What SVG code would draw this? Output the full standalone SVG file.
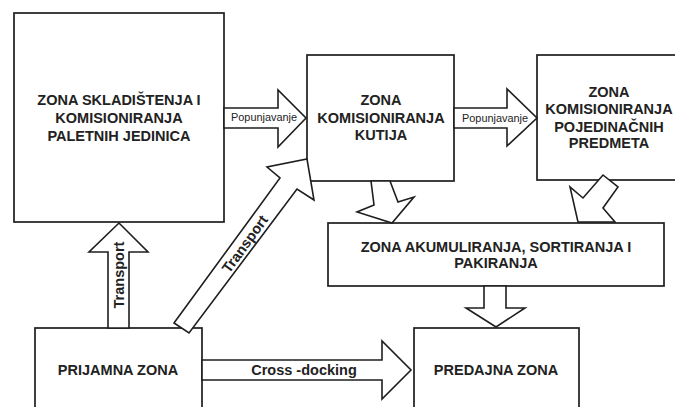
<svg xmlns="http://www.w3.org/2000/svg" width="675" height="407" viewBox="0 0 675 407">
<style>
.box{fill:#fff;stroke:#1e1e1e;stroke-width:1.7}
.arr{fill:#fff;stroke:#1e1e1e;stroke-width:1.6;stroke-linejoin:miter}
.t{font-family:"Liberation Sans",Arial,sans-serif;font-weight:bold;font-size:14.5px;fill:#222;text-anchor:middle}
.s{font-family:"Liberation Sans",Arial,sans-serif;font-size:10.5px;fill:#222;text-anchor:middle}
</style>
<rect width="675" height="407" fill="#fff"/>
<g id="n-skladistenje">
<rect class="box" x="14" y="13" width="210" height="209"/>
<text class="t" x="119" y="105">ZONA SKLADIŠTENJA I</text>
<text class="t" x="119" y="123">KOMISIONIRANJA</text>
<text class="t" x="119" y="141">PALETNIH JEDINICA</text>
</g>
<g id="n-kutije">
<rect class="box" x="307" y="55" width="147" height="126"/>
<text class="t" x="381" y="105">ZONA</text>
<text class="t" x="381" y="123">KOMISIONIRANJA</text>
<text class="t" x="381" y="140">KUTIJA</text>
</g>
<g id="n-predmeti">
<rect class="box" x="537" y="55" width="150" height="125"/>
<text class="t" x="609" y="97">ZONA</text>
<text class="t" x="609" y="114">KOMISIONIRANJA</text>
<text class="t" x="609" y="132">POJEDINAČNIH</text>
<text class="t" x="609" y="148">PREDMETA</text>
</g>
<g id="n-akumuliranje">
<rect class="box" x="328" y="223" width="336" height="63"/>
<text class="t" x="496" y="252">ZONA AKUMULIRANJA, SORTIRANJA I</text>
<text class="t" x="496" y="268">PAKIRANJA</text>
</g>
<g id="n-predajna">
<rect class="box" x="414" y="328" width="165" height="100"/>
<text class="t" x="496" y="375">PREDAJNA ZONA</text>
</g>
<g id="n-prijamna">
<rect class="box" x="35" y="328" width="167" height="100"/>
<text class="t" x="118" y="375">PRIJAMNA ZONA</text>
</g>
<g id="connectors">
<polygon class="arr" points="224,108 278,108 278,90 306,118 278,147 278,128 224,128"/>
<text class="s" x="264" y="121" textLength="66" lengthAdjust="spacingAndGlyphs">Popunjavanje</text>
<polygon class="arr" points="454,108 507,108 507,89 537,118 507,146 507,128 454,128"/>
<text class="s" x="495" y="122" textLength="66" lengthAdjust="spacingAndGlyphs">Popunjavanje</text>
<polygon class="arr" points="371,181 374,205 357,212 392,223 414,197 398,202 390,181"/>
<polygon class="arr" points="603,175 618,187 603,208 615,222 578,222 570,187 583,198"/>
<polygon class="arr" points="484,286 484,308 466,308 496,327 525,308 506,308 506,286"/>
<polygon class="arr" points="108,328 108,252 89,252 119,223 148,252 129,252 129,328"/>
<text class="t" transform="translate(124,275) rotate(-90)" x="0" y="0">Transport</text>
<polygon class="arr" points="174,323 280,178 267,167 307,159 314,200 297,189 189,333"/>
<text class="t" transform="translate(249,247) rotate(-54)" x="0" y="0">Transport</text>
<polygon class="arr" points="202,360 382,360 382,341 411,370 382,399 382,380 202,380"/>
<text class="t" x="304" y="375">Cross -docking</text>
</g>
</svg>
